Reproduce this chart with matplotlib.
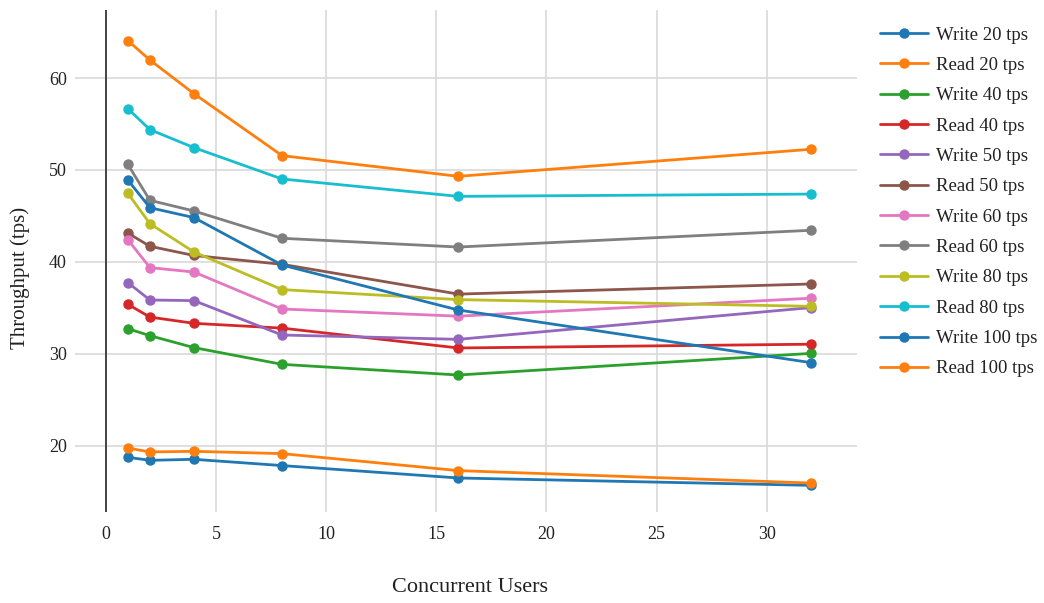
import matplotlib
matplotlib.use("Agg")
import matplotlib.pyplot as plt

users = [1, 2, 4, 8, 16, 32]

series_names = ["Write 20 tps", "Read 20 tps", "Write 40 tps", "Read 40 tps",
                "Write 50 tps", "Read 50 tps", "Write 60 tps", "Read 60 tps",
                "Write 80 tps", "Read 80 tps", "Write 100 tps", "Read 100 tps"]

write_20 = [18.75, 18.42, 18.53, 17.85, 16.5, 15.7]
read_20 = [19.76, 19.33, 19.4, 19.15, 17.3, 15.95]
write_40 = [32.74, 31.98, 30.68, 28.86, 27.7, 30.05]
read_40 = [35.39, 34.0, 33.32, 32.8, 30.64, 31.05]
write_50 = [37.75, 35.86, 35.79, 32.05, 31.58, 35.03]
read_50 = [43.14, 41.7, 40.7, 39.74, 36.5, 37.6]
write_60 = [42.42, 39.38, 38.9, 34.88, 34.1, 36.05]
read_60 = [50.6, 46.7, 45.54, 42.57, 41.62, 43.44]
write_80 = [47.46, 44.16, 41.08, 36.99, 35.9, 35.17]
read_80 = [56.67, 54.39, 52.43, 49.02, 47.13, 47.38]
write_100 = [48.9, 45.9, 44.82, 39.66, 34.77, 29.05]
read_100 = [64.07, 61.96, 58.3, 51.56, 49.31, 52.25]

all_series = [write_20, read_20, write_40, read_40, write_50, read_50,
              write_60, read_60, write_80, read_80, write_100, read_100]

colors = ["#1f77b4", "#ff7f0e", "#2ca02c", "#d62728", "#9467bd", "#8c564b",
          "#e377c2", "#7f7f7f", "#bcbd22", "#17becf", "#1f77b4", "#ff7f0e"]

plt.rcParams['font.family'] = ['Liberation Serif', 'DejaVu Serif']

fig = plt.figure(figsize=(10.44, 6.03), dpi=100)
ax = fig.add_axes([75/1044, 1 - 512/603, (857 - 75)/1044, (512 - 10)/603])

for name, vals, c in zip(series_names, all_series, colors):
    ax.plot(users, vals, color=c, lw=2.0, marker='o', ms=6.5, label=name,
            solid_capstyle='round', zorder=3)

ax.set_xlim(-1.4, 34.1)
ax.set_ylim(12.8, 67.4)
ax.set_xticks([0, 5, 10, 15, 20, 25, 30])
ax.set_yticks([20, 30, 40, 50, 60])
ax.grid(True, color='#d9d9d9', lw=1.2)
ax.axvline(0, color='#444444', lw=1.4, zorder=2)
for s in ax.spines.values():
    s.set_visible(False)
ax.tick_params(length=0, labelsize=13, colors='#222222')
ax.tick_params(axis='x', pad=10)
ax.tick_params(axis='y', pad=6)

fig.text(20/1044, 1 - 278/603, "Throughput (tps)", rotation=90, va='center', ha='center',
         fontsize=15, color='#222222')
fig.text(470/1044, 1 - 588/603, "Concurrent Users", va='center', ha='center',
         fontsize=16, color='#222222')

leg = fig.legend(loc='upper left', bbox_to_anchor=(872/1044, 1 - 19/603),
                 frameon=False, fontsize=13.5, handlelength=2.56, labelspacing=0.705,
                 handletextpad=0.43, borderaxespad=0)
for t in leg.get_texts():
    t.set_color('#222222')

fig.savefig("out.png", dpi=100)
